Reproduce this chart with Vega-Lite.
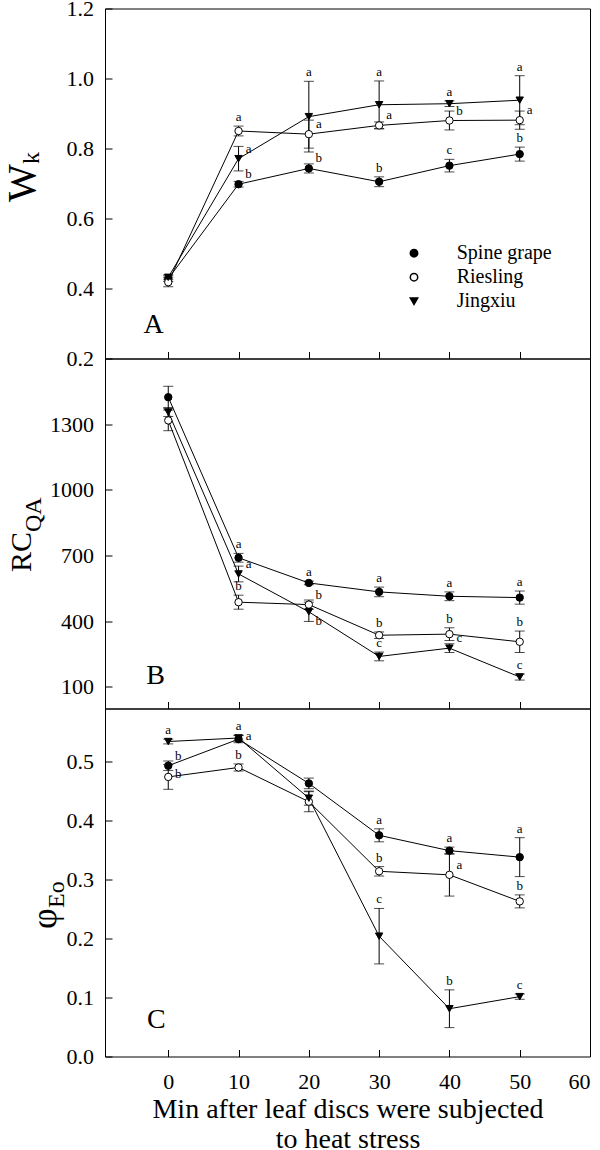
{
  "$schema": "https://vega.github.io/schema/vega-lite/v6.json",
  "background": "white",
  "padding": {"left": 1, "top": -3.5, "right": 0, "bottom": 0},
  "config": {
    "view": {"stroke": "black", "strokeWidth": 1},
    "font": "Liberation Serif",
    "text": {"fill": "black", "font": "Liberation Serif"},
    "axis": {"labelFont": "Liberation Serif", "titleFont": "Liberation Serif", "labelColor": "black", "titleColor": "black", "tickColor": "black", "labelFontSize": 22, "titleFontWeight": "normal", "grid": false, "domain": false, "tickSize": -7, "tickWidth": 1},
    "legend": {"labelFont": "Liberation Serif", "labelColor": "black"}
  },
  "datasets": {
    "pts": [
      {"p":"A","c":"Spine grape","t":0,"v":0.428,"lo":0.420,"hi":0.436},
      {"p":"A","c":"Spine grape","t":10,"v":0.698,"lo":0.690,"hi":0.706,"l":"b","at":"side"},
      {"p":"A","c":"Spine grape","t":20,"v":0.743,"lo":0.730,"hi":0.756,"l":"b","at":"side"},
      {"p":"A","c":"Spine grape","t":30,"v":0.705,"lo":0.691,"hi":0.719,"l":"b","at":"top"},
      {"p":"A","c":"Spine grape","t":40,"v":0.751,"lo":0.733,"hi":0.769,"l":"c","at":"top"},
      {"p":"A","c":"Spine grape","t":50,"v":0.784,"lo":0.764,"hi":0.804,"l":"b","at":"top"},
      {"p":"A","c":"Riesling","t":0,"v":0.418,"lo":0.405,"hi":0.431},
      {"p":"A","c":"Riesling","t":10,"v":0.850,"lo":0.836,"hi":0.864,"l":"a","at":"top"},
      {"p":"A","c":"Riesling","t":20,"v":0.841,"lo":0.801,"hi":0.881,"l":"a","at":"side"},
      {"p":"A","c":"Riesling","t":30,"v":0.866,"lo":0.856,"hi":0.876,"l":"a","at":"side"},
      {"p":"A","c":"Riesling","t":40,"v":0.880,"lo":0.853,"hi":0.907,"l":"b","at":"side"},
      {"p":"A","c":"Riesling","t":50,"v":0.881,"lo":0.855,"hi":0.907,"l":"a","at":"side"},
      {"p":"A","c":"Jingxiu","t":0,"v":0.432,"lo":0.425,"hi":0.439},
      {"p":"A","c":"Jingxiu","t":10,"v":0.771,"lo":0.736,"hi":0.806,"l":"a","at":"side"},
      {"p":"A","c":"Jingxiu","t":20,"v":0.891,"lo":0.790,"hi":0.992,"l":"a","at":"top"},
      {"p":"A","c":"Jingxiu","t":30,"v":0.925,"lo":0.857,"hi":0.993,"l":"a","at":"top"},
      {"p":"A","c":"Jingxiu","t":40,"v":0.928,"lo":0.920,"hi":0.936,"l":"a","at":"top"},
      {"p":"A","c":"Jingxiu","t":50,"v":0.938,"lo":0.868,"hi":1.008,"l":"a","at":"top"},
      {"p":"B","c":"Spine grape","t":0,"v":1423,"lo":1373,"hi":1473},
      {"p":"B","c":"Spine grape","t":10,"v":689,"lo":669,"hi":709,"l":"a","at":"top"},
      {"p":"B","c":"Spine grape","t":20,"v":574,"lo":566,"hi":582,"l":"a","at":"top"},
      {"p":"B","c":"Spine grape","t":30,"v":533,"lo":511,"hi":555,"l":"a","at":"top"},
      {"p":"B","c":"Spine grape","t":40,"v":513,"lo":493,"hi":533,"l":"a","at":"top"},
      {"p":"B","c":"Spine grape","t":50,"v":507,"lo":477,"hi":537,"l":"a","at":"top"},
      {"p":"B","c":"Riesling","t":0,"v":1317,"lo":1270,"hi":1364},
      {"p":"B","c":"Riesling","t":10,"v":486,"lo":454,"hi":518,"l":"b","at":"top"},
      {"p":"B","c":"Riesling","t":20,"v":475,"lo":454,"hi":496,"l":"b","at":"side"},
      {"p":"B","c":"Riesling","t":30,"v":335,"lo":320,"hi":350,"l":"b","at":"top"},
      {"p":"B","c":"Riesling","t":40,"v":340,"lo":311,"hi":369,"l":"b","at":"top"},
      {"p":"B","c":"Riesling","t":50,"v":305,"lo":256,"hi":354,"l":"b","at":"top"},
      {"p":"B","c":"Jingxiu","t":0,"v":1355,"lo":1335,"hi":1375},
      {"p":"B","c":"Jingxiu","t":10,"v":615,"lo":579,"hi":651,"l":"a","at":"side"},
      {"p":"B","c":"Jingxiu","t":20,"v":442,"lo":398,"hi":486,"l":"b","at":"below"},
      {"p":"B","c":"Jingxiu","t":30,"v":238,"lo":218,"hi":258,"l":"c","at":"top"},
      {"p":"B","c":"Jingxiu","t":40,"v":276,"lo":256,"hi":296,"l":"c","at":"side"},
      {"p":"B","c":"Jingxiu","t":50,"v":144,"lo":130,"hi":158,"l":"c","at":"top"},
      {"p":"C","c":"Spine grape","t":0,"v":0.493,"lo":0.485,"hi":0.501,"l":"b","at":"side"},
      {"p":"C","c":"Spine grape","t":10,"v":0.538,"lo":0.532,"hi":0.544,"l":"a","at":"sidelow"},
      {"p":"C","c":"Spine grape","t":20,"v":0.463,"lo":0.454,"hi":0.472},
      {"p":"C","c":"Spine grape","t":30,"v":0.375,"lo":0.364,"hi":0.386,"l":"a","at":"top"},
      {"p":"C","c":"Spine grape","t":40,"v":0.349,"lo":0.343,"hi":0.355,"l":"a","at":"top"},
      {"p":"C","c":"Spine grape","t":50,"v":0.338,"lo":0.305,"hi":0.371,"l":"a","at":"top"},
      {"p":"C","c":"Riesling","t":0,"v":0.474,"lo":0.453,"hi":0.495,"l":"b","at":"sidelow"},
      {"p":"C","c":"Riesling","t":10,"v":0.490,"lo":0.484,"hi":0.496,"l":"b","at":"top"},
      {"p":"C","c":"Riesling","t":20,"v":0.432,"lo":0.415,"hi":0.449},
      {"p":"C","c":"Riesling","t":30,"v":0.314,"lo":0.306,"hi":0.322,"l":"b","at":"top"},
      {"p":"C","c":"Riesling","t":40,"v":0.308,"lo":0.272,"hi":0.344,"l":"a","at":"side"},
      {"p":"C","c":"Riesling","t":50,"v":0.263,"lo":0.252,"hi":0.274,"l":"b","at":"top"},
      {"p":"C","c":"Jingxiu","t":0,"v":0.534,"lo":0.530,"hi":0.538,"l":"a","at":"top"},
      {"p":"C","c":"Jingxiu","t":10,"v":0.540,"lo":0.535,"hi":0.545,"l":"a","at":"top"},
      {"p":"C","c":"Jingxiu","t":20,"v":0.438,"lo":0.426,"hi":0.450},
      {"p":"C","c":"Jingxiu","t":30,"v":0.204,"lo":0.157,"hi":0.251,"l":"c","at":"top"},
      {"p":"C","c":"Jingxiu","t":40,"v":0.081,"lo":0.049,"hi":0.113,"l":"b","at":"top"},
      {"p":"C","c":"Jingxiu","t":50,"v":0.1015,"lo":0.097,"hi":0.106,"l":"c","at":"top"}
    ],
    "tags": [
      {"p":"A","s":"A","x":-2.1,"y":0.272},
      {"p":"B","s":"B","x":-1.8,"y":110},
      {"p":"C","s":"C","x":-1.7,"y":0.048}
    ]
  },
  "resolve": {
    "scale": {"shape": "independent", "fill": "independent", "size": "independent"},
    "legend": {"shape": "independent", "fill": "independent", "size": "independent"}
  },
  "spacing": 0,
  "bounds": "flush",
  "vconcat": [
    {
      "width": 485,
      "height": 350,
      "resolve": {"scale": {"x": "independent", "y": "independent"}, "axis": {"x": "independent", "y": "independent"}},
      "layer": [
        {
          "data": {"name": "pts"},
          "transform": [{"filter": "datum.p === 'A'"}],
          "mark": {"type": "errorbar", "color": "black", "ticks": {"size": 10, "thickness": 1, "color": "black"}, "rule": {"strokeWidth": 1, "color": "black"}},
          "encoding": {
            "x": {"field": "t", "type": "quantitative", "scale": {"domain": [-9, 60], "nice": false, "zero": false}, "axis": null},
            "y": {"field": "lo", "type": "quantitative", "scale": {"domain": [0.2, 1.2], "nice": false, "zero": false}, "axis": null},
            "y2": {"field": "hi"},
            "detail": {"field": "c"}
          }
        },
        {
          "data": {"name": "pts"},
          "transform": [{"filter": "datum.p === 'A'"}],
          "mark": {"type": "line", "color": "black", "strokeWidth": 1},
          "encoding": {
            "x": {"field": "t", "type": "quantitative", "scale": {"domain": [-9, 60], "nice": false, "zero": false}, "axis": {"values": [0, 10, 20, 30, 40, 50, 60], "labels": false, "title": null}},
            "y": {"field": "v", "type": "quantitative", "scale": {"domain": [0.2, 1.2], "nice": false, "zero": false}, "axis": {"values": [0.2, 0.4, 0.6, 0.8, 1.0, 1.2], "format": ".1f", "labelPadding": 18.6, "title": "W", "titleX": -71, "titleY": 193, "titleAngle": -90, "titleAlign": "left", "titleBaseline": "alphabetic", "titleFontSize": 40}},
            "detail": {"field": "c"}
          }
        },
        {
          "data": {"name": "pts"},
          "transform": [{"filter": "datum.p === 'A'"}],
          "mark": {"type": "point", "opacity": 1, "fillOpacity": 1, "stroke": "black", "strokeWidth": 1},
          "encoding": {
            "x": {"field": "t", "type": "quantitative", "scale": {"domain": [-9, 60], "nice": false, "zero": false}, "axis": null},
            "y": {"field": "v", "type": "quantitative", "scale": {"domain": [0.2, 1.2], "nice": false, "zero": false}, "axis": null},
            "shape": {"field": "c", "type": "nominal", "title": null, "scale": {"domain": ["Spine grape", "Riesling", "Jingxiu"], "range": ["circle", "circle", "triangle-down"]},
              "legend": {"orient": "none", "legendX": 299, "legendY": 234.7, "title": null, "padding": 0, "labelFontSize": 20, "labelOffset": 32.7, "rowPadding": 4, "symbolSize": 100}},
            "fill": {"field": "c", "type": "nominal", "title": null, "scale": {"domain": ["Spine grape", "Riesling", "Jingxiu"], "range": ["black", "white", "black"]},
              "legend": {"orient": "none", "legendX": 299, "legendY": 234.7, "title": null, "padding": 0, "labelFontSize": 20, "labelOffset": 32.7, "rowPadding": 4, "symbolSize": 100}},
            "size": {"field": "c", "type": "nominal", "title": null, "scale": {"domain": ["Spine grape", "Riesling", "Jingxiu"], "range": [55, 55, 85]},
              "legend": {"orient": "none", "legendX": 299, "legendY": 234.7, "title": null, "padding": 0, "labelFontSize": 20, "labelOffset": 32.7, "rowPadding": 4, "symbolSize": 100}}
          }
        },
        {
          "data": {"name": "pts"},
          "transform": [{"filter": "datum.p === 'A' && datum.at === 'top'"}],
          "mark": {"type": "text", "fontSize": 13, "fill": "black", "baseline": "bottom", "dy": -2},
          "encoding": {
            "x": {"field": "t", "type": "quantitative", "scale": {"domain": [-9, 60], "nice": false, "zero": false}, "axis": null},
            "y": {"field": "hi", "type": "quantitative", "scale": {"domain": [0.2, 1.2], "nice": false, "zero": false}, "axis": null},
            "text": {"field": "l"}
          }
        },
        {
          "data": {"name": "pts"},
          "transform": [{"filter": "datum.p === 'A' && datum.at === 'side'"}],
          "mark": {"type": "text", "fontSize": 13, "fill": "black", "baseline": "middle", "dx": 10, "dy": -10},
          "encoding": {
            "x": {"field": "t", "type": "quantitative", "scale": {"domain": [-9, 60], "nice": false, "zero": false}, "axis": null},
            "y": {"field": "v", "type": "quantitative", "scale": {"domain": [0.2, 1.2], "nice": false, "zero": false}, "axis": null},
            "text": {"field": "l"}
          }
        },
        {
          "data": {"name": "tags"},
          "transform": [{"filter": "datum.p === 'A'"}],
          "mark": {"type": "text", "fontSize": 28, "fill": "black", "baseline": "alphabetic", "align": "center"},
          "encoding": {
            "x": {"field": "x", "type": "quantitative", "scale": {"domain": [-9, 60], "nice": false, "zero": false}, "axis": null},
            "y": {"field": "y", "type": "quantitative", "scale": {"domain": [0.2, 1.2], "nice": false, "zero": false}, "axis": {"orient": "left", "labels": false, "ticks": false, "domain": false, "grid": false, "title": "k", "titleX": -67, "titleY": 155, "titleAngle": -90, "titleAlign": "left", "titleBaseline": "alphabetic", "titleFontSize": 24}},
            "text": {"field": "s"}
          }
        }
      ]
    },
    {
      "width": 485,
      "height": 350,
      "resolve": {"scale": {"x": "independent", "y": "independent"}, "axis": {"x": "independent", "y": "independent"}},
      "layer": [
        {
          "data": {"name": "pts"},
          "transform": [{"filter": "datum.p === 'B'"}],
          "mark": {"type": "errorbar", "color": "black", "ticks": {"size": 10, "thickness": 1, "color": "black"}, "rule": {"strokeWidth": 1, "color": "black"}},
          "encoding": {
            "x": {"field": "t", "type": "quantitative", "scale": {"domain": [-9, 60], "nice": false, "zero": false}, "axis": null},
            "y": {"field": "lo", "type": "quantitative", "scale": {"domain": [0, 1600], "nice": false, "zero": false}, "axis": null},
            "y2": {"field": "hi"},
            "detail": {"field": "c"}
          }
        },
        {
          "data": {"name": "pts"},
          "transform": [{"filter": "datum.p === 'B'"}],
          "mark": {"type": "line", "color": "black", "strokeWidth": 1},
          "encoding": {
            "x": {"field": "t", "type": "quantitative", "scale": {"domain": [-9, 60], "nice": false, "zero": false}, "axis": {"values": [0, 10, 20, 30, 40, 50, 60], "labels": false, "title": null}},
            "y": {"field": "v", "type": "quantitative", "scale": {"domain": [0, 1600], "nice": false, "zero": false}, "axis": {"values": [100, 400, 700, 1000, 1300], "format": "d", "labelPadding": 18.6, "title": "RC", "titleX": -75, "titleY": 213, "titleAngle": -90, "titleAlign": "left", "titleBaseline": "alphabetic", "titleFontSize": 30}},
            "detail": {"field": "c"}
          }
        },
        {
          "data": {"name": "pts"},
          "transform": [{"filter": "datum.p === 'B'"}],
          "mark": {"type": "point", "opacity": 1, "fillOpacity": 1, "stroke": "black", "strokeWidth": 1},
          "encoding": {
            "x": {"field": "t", "type": "quantitative", "scale": {"domain": [-9, 60], "nice": false, "zero": false}, "axis": null},
            "y": {"field": "v", "type": "quantitative", "scale": {"domain": [0, 1600], "nice": false, "zero": false}, "axis": null},
            "shape": {"field": "c", "type": "nominal", "scale": {"domain": ["Spine grape", "Riesling", "Jingxiu"], "range": ["circle", "circle", "triangle-down"]}, "legend": null},
            "fill": {"field": "c", "type": "nominal", "scale": {"domain": ["Spine grape", "Riesling", "Jingxiu"], "range": ["black", "white", "black"]}, "legend": null},
            "size": {"field": "c", "type": "nominal", "scale": {"domain": ["Spine grape", "Riesling", "Jingxiu"], "range": [55, 55, 85]}, "legend": null}
          }
        },
        {
          "data": {"name": "pts"},
          "transform": [{"filter": "datum.p === 'B' && datum.at === 'top'"}],
          "mark": {"type": "text", "fontSize": 13, "fill": "black", "baseline": "bottom", "dy": -2},
          "encoding": {
            "x": {"field": "t", "type": "quantitative", "scale": {"domain": [-9, 60], "nice": false, "zero": false}, "axis": null},
            "y": {"field": "hi", "type": "quantitative", "scale": {"domain": [0, 1600], "nice": false, "zero": false}, "axis": null},
            "text": {"field": "l"}
          }
        },
        {
          "data": {"name": "pts"},
          "transform": [{"filter": "datum.p === 'B' && datum.at === 'side'"}],
          "mark": {"type": "text", "fontSize": 13, "fill": "black", "baseline": "middle", "dx": 10, "dy": -10},
          "encoding": {
            "x": {"field": "t", "type": "quantitative", "scale": {"domain": [-9, 60], "nice": false, "zero": false}, "axis": null},
            "y": {"field": "v", "type": "quantitative", "scale": {"domain": [0, 1600], "nice": false, "zero": false}, "axis": null},
            "text": {"field": "l"}
          }
        },
        {
          "data": {"name": "pts"},
          "transform": [{"filter": "datum.p === 'B' && datum.at === 'below'"}],
          "mark": {"type": "text", "fontSize": 13, "fill": "black", "baseline": "middle", "dx": 10, "dy": 9},
          "encoding": {
            "x": {"field": "t", "type": "quantitative", "scale": {"domain": [-9, 60], "nice": false, "zero": false}, "axis": null},
            "y": {"field": "v", "type": "quantitative", "scale": {"domain": [0, 1600], "nice": false, "zero": false}, "axis": null},
            "text": {"field": "l"}
          }
        },
        {
          "data": {"name": "tags"},
          "transform": [{"filter": "datum.p === 'B'"}],
          "mark": {"type": "text", "fontSize": 28, "fill": "black", "baseline": "alphabetic", "align": "center"},
          "encoding": {
            "x": {"field": "x", "type": "quantitative", "scale": {"domain": [-9, 60], "nice": false, "zero": false}, "axis": null},
            "y": {"field": "y", "type": "quantitative", "scale": {"domain": [0, 1600], "nice": false, "zero": false}, "axis": {"orient": "left", "labels": false, "ticks": false, "domain": false, "grid": false, "title": "QA", "titleX": -65, "titleY": 173, "titleAngle": -90, "titleAlign": "left", "titleBaseline": "alphabetic", "titleFontSize": 24}},
            "text": {"field": "s"}
          }
        }
      ]
    },
    {
      "width": 485,
      "height": 348,
      "resolve": {"scale": {"x": "independent", "y": "independent"}, "axis": {"x": "independent", "y": "independent"}},
      "layer": [
        {
          "data": {"name": "pts"},
          "transform": [{"filter": "datum.p === 'C'"}],
          "mark": {"type": "errorbar", "color": "black", "ticks": {"size": 10, "thickness": 1, "color": "black"}, "rule": {"strokeWidth": 1, "color": "black"}},
          "encoding": {
            "x": {"field": "t", "type": "quantitative", "scale": {"domain": [-9, 60], "nice": false, "zero": false}, "axis": null},
            "y": {"field": "lo", "type": "quantitative", "scale": {"domain": [0, 0.59], "nice": false, "zero": false}, "axis": null},
            "y2": {"field": "hi"},
            "detail": {"field": "c"}
          }
        },
        {
          "data": {"name": "pts"},
          "transform": [{"filter": "datum.p === 'C'"}],
          "mark": {"type": "line", "color": "black", "strokeWidth": 1},
          "encoding": {
            "x": {"field": "t", "type": "quantitative", "scale": {"domain": [-9, 60], "nice": false, "zero": false}, "axis": {"values": [0, 10, 20, 30, 40, 50, 60], "labelPadding": 21.8, "title": ["Min after leaf discs were subjected", "to heat stress"], "titleFontSize": 28, "titleLineHeight": 30, "titleX": 242.5, "titleY": 60.5, "titleAlign": "center", "titleBaseline": "alphabetic"}},
            "y": {"field": "v", "type": "quantitative", "scale": {"domain": [0, 0.59], "nice": false, "zero": false}, "axis": {"values": [0, 0.1, 0.2, 0.3, 0.4, 0.5], "format": ".1f", "labelPadding": 18.6, "title": "φ", "titleX": -50, "titleY": 220, "titleAngle": -90, "titleAlign": "left", "titleBaseline": "alphabetic", "titleFontSize": 36}},
            "detail": {"field": "c"}
          }
        },
        {
          "data": {"name": "pts"},
          "transform": [{"filter": "datum.p === 'C'"}],
          "mark": {"type": "point", "opacity": 1, "fillOpacity": 1, "stroke": "black", "strokeWidth": 1},
          "encoding": {
            "x": {"field": "t", "type": "quantitative", "scale": {"domain": [-9, 60], "nice": false, "zero": false}, "axis": null},
            "y": {"field": "v", "type": "quantitative", "scale": {"domain": [0, 0.59], "nice": false, "zero": false}, "axis": null},
            "shape": {"field": "c", "type": "nominal", "scale": {"domain": ["Spine grape", "Riesling", "Jingxiu"], "range": ["circle", "circle", "triangle-down"]}, "legend": null},
            "fill": {"field": "c", "type": "nominal", "scale": {"domain": ["Spine grape", "Riesling", "Jingxiu"], "range": ["black", "white", "black"]}, "legend": null},
            "size": {"field": "c", "type": "nominal", "scale": {"domain": ["Spine grape", "Riesling", "Jingxiu"], "range": [55, 55, 85]}, "legend": null}
          }
        },
        {
          "data": {"name": "pts"},
          "transform": [{"filter": "datum.p === 'C' && datum.at === 'top'"}],
          "mark": {"type": "text", "fontSize": 13, "fill": "black", "baseline": "bottom", "dy": -2},
          "encoding": {
            "x": {"field": "t", "type": "quantitative", "scale": {"domain": [-9, 60], "nice": false, "zero": false}, "axis": null},
            "y": {"field": "hi", "type": "quantitative", "scale": {"domain": [0, 0.59], "nice": false, "zero": false}, "axis": null},
            "text": {"field": "l"}
          }
        },
        {
          "data": {"name": "pts"},
          "transform": [{"filter": "datum.p === 'C' && datum.at === 'side'"}],
          "mark": {"type": "text", "fontSize": 13, "fill": "black", "baseline": "middle", "dx": 10, "dy": -10},
          "encoding": {
            "x": {"field": "t", "type": "quantitative", "scale": {"domain": [-9, 60], "nice": false, "zero": false}, "axis": null},
            "y": {"field": "v", "type": "quantitative", "scale": {"domain": [0, 0.59], "nice": false, "zero": false}, "axis": null},
            "text": {"field": "l"}
          }
        },
        {
          "data": {"name": "pts"},
          "transform": [{"filter": "datum.p === 'C' && datum.at === 'sidelow'"}],
          "mark": {"type": "text", "fontSize": 13, "fill": "black", "baseline": "middle", "dx": 10, "dy": -3},
          "encoding": {
            "x": {"field": "t", "type": "quantitative", "scale": {"domain": [-9, 60], "nice": false, "zero": false}, "axis": null},
            "y": {"field": "v", "type": "quantitative", "scale": {"domain": [0, 0.59], "nice": false, "zero": false}, "axis": null},
            "text": {"field": "l"}
          }
        },
        {
          "data": {"name": "tags"},
          "transform": [{"filter": "datum.p === 'C'"}],
          "mark": {"type": "text", "fontSize": 28, "fill": "black", "baseline": "alphabetic", "align": "center"},
          "encoding": {
            "x": {"field": "x", "type": "quantitative", "scale": {"domain": [-9, 60], "nice": false, "zero": false}, "axis": null},
            "y": {"field": "y", "type": "quantitative", "scale": {"domain": [0, 0.59], "nice": false, "zero": false}, "axis": {"orient": "left", "labels": false, "ticks": false, "domain": false, "grid": false, "title": "Eo", "titleX": -42, "titleY": 199, "titleAngle": -90, "titleAlign": "left", "titleBaseline": "alphabetic", "titleFontSize": 24}},
            "text": {"field": "s"}
          }
        }
      ]
    }
  ]
}
